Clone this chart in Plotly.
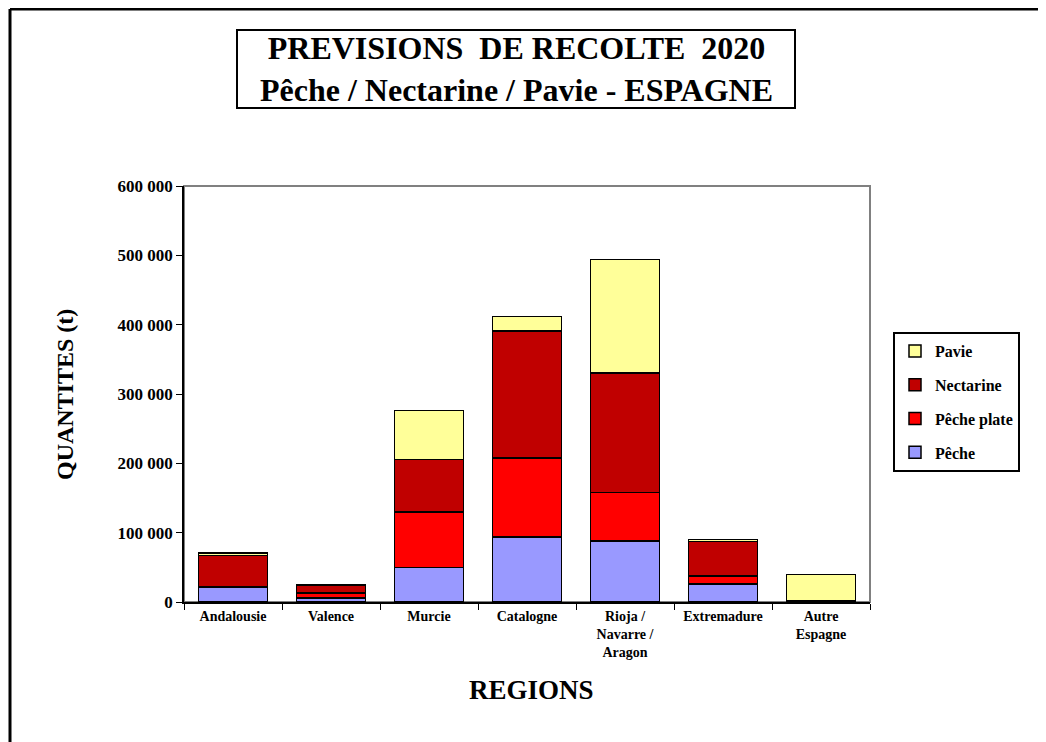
import plotly.graph_objects as go

regions = ["Andalousie", "Valence", "Murcie", "Catalogne",
           "Rioja /<br>Navarre /<br>Aragon", "Extremadure", "Autre<br>Espagne"]
peche = [22000, 6000, 49500, 94000, 88000, 26000, 1500]
peche_plate = [0, 7000, 80000, 114000, 70000, 11500, 0]
nectarine = [44800, 11500, 76000, 183000, 172000, 49500, 500]
pavie = [4000, 0, 71000, 21000, 164000, 3400, 38000]

series = [
    ("Pêche", peche, "#9999FF"),
    ("Pêche plate", peche_plate, "#FF0000"),
    ("Nectarine", nectarine, "#C00000"),
    ("Pavie", pavie, "#FFFF99"),
]

FONT = "Liberation Serif, Times New Roman, serif"

fig = go.Figure()
for i, (name, vals, col) in enumerate(series):
    fig.add_trace(go.Bar(
        x=regions, y=vals, name=f"<b>{name}</b>",
        legendgroup=name,
        legendrank=len(series) - i,
        marker=dict(color=col, line=dict(color="black", width=1.5)),
        width=0.7,
    ))

# page offset of 8px (body margin) compensated
OFF = 8
W, H = 1046, 742
L, R, T, B = 184 - OFF, 870 - OFF, 186 - OFF, 602 - OFF
pw, ph = R - L, B - T

def px(x):
    return (x - OFF - L) / pw

def py(y):
    return (B - (y - OFF)) / ph

shapes = [
    dict(type="rect", xref="paper", yref="paper", x0=0, x1=1, y0=0, y1=1,
         line=dict(color="#808080", width=2), layer="below"),
    dict(type="rect", xref="paper", yref="paper", x0=px(237), x1=px(795),
         y0=py(108), y1=py(30), line=dict(color="black", width=2)),
    dict(type="line", xref="paper", yref="paper", x0=px(10), x1=px(10),
         y0=py(9), y1=py(760), line=dict(color="black", width=3)),
    dict(type="line", xref="paper", yref="paper", x0=px(10), x1=px(1060),
         y0=py(9), y1=py(9), line=dict(color="black", width=3)),
]

annotations = [
    dict(text="<b>PREVISIONS  DE RECOLTE  2020</b><br><b>Pêche / Nectarine / Pavie - ESPAGNE</b>",
         xref="paper", yref="paper", x=px(516), y=py(69), xanchor="center", yanchor="middle",
         showarrow=False, font=dict(family=FONT, size=32, color="black")),
    dict(text="<b>QUANTITES (t)</b>", xref="paper", yref="paper", x=px(65), y=py(395),
         xanchor="center", yanchor="middle", textangle=-90, showarrow=False,
         font=dict(family=FONT, size=24, color="black")),
    dict(text="<b>REGIONS</b>", xref="paper", yref="paper", x=px(531), y=py(690),
         xanchor="center", yanchor="middle", showarrow=False,
         font=dict(family=FONT, size=27, color="black")),
]

fig.update_layout(
    width=W, height=H,
    margin=dict(l=L, r=W - R, t=T, b=H - B, pad=0),
    paper_bgcolor="white", plot_bgcolor="white",
    barmode="stack",
    separators=". ",
    font=dict(family=FONT, color="black"),
    shapes=shapes,
    annotations=annotations,
    showlegend=True,
    legend=dict(
        x=px(893), y=py(332), xanchor="left", yanchor="top",
        traceorder="grouped", tracegroupgap=10,
        bordercolor="black", borderwidth=2, bgcolor="white",
        font=dict(family=FONT, size=16, color="black"),
        itemwidth=30,
    ),
)

fig.update_xaxes(
    showline=True, linecolor="black", linewidth=1.5,
    ticks="outside", tickson="boundaries", ticklen=6, tickcolor="black",
    tickfont=dict(family=FONT, size=14, color="black"),
    showgrid=False, zeroline=False,
    tickvals=regions, ticktext=[f"<b>{r}</b>" for r in regions],
)
fig.update_yaxes(
    range=[0, 600000], dtick=100000, tickformat=",d",
    showline=True, linecolor="black", linewidth=1.5,
    ticks="outside", ticklen=6, tickcolor="black",
    tickfont=dict(family=FONT, size=17, color="black"),
    showgrid=False, zeroline=False,
    tickprefix="<b>", ticksuffix="</b>",
)

fig.write_html("out.html")
